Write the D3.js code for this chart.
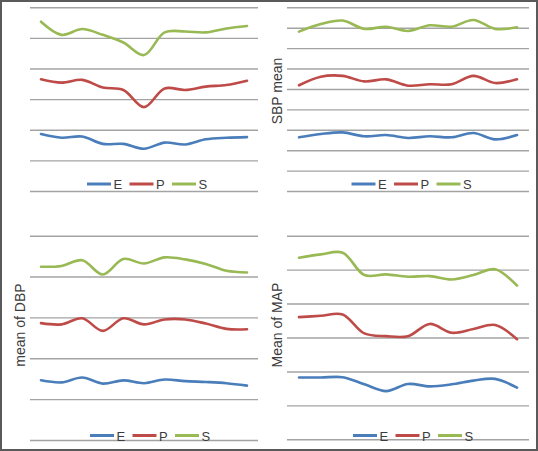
<!DOCTYPE html>
<html>
<head>
<meta charset="utf-8">
<script src="https://cdn.jsdelivr.net/npm/d3@7"></script>
<style>
  html, body { margin: 0; padding: 0; background: #fff; }
  svg { display: block; }
  text { font-family: "Liberation Sans", Arial, sans-serif; fill: #3c3c3c; }
</style>
</head>
<body>
<script>
// ---- DATA (values in gridline units; no axis labels shown in the original) ----
const timePoints = [1, 2, 3, 4, 5, 6, 7, 8, 9, 10, 11];
const seriesNames = ["E", "P", "S"];

// Panel 1 (top-left, no title)
const hrE = [1.86, 1.74, 1.78, 1.54, 1.54, 1.38, 1.58, 1.52, 1.69, 1.74, 1.76];
const hrP = [3.65, 3.54, 3.63, 3.38, 3.30, 2.74, 3.35, 3.30, 3.41, 3.46, 3.60];
const hrS = [5.53, 5.10, 5.29, 5.10, 4.85, 4.44, 5.18, 5.21, 5.18, 5.31, 5.39];

// Panel 2 (top-right, "SBP mean")
const sbpE = [2.63, 2.79, 2.87, 2.68, 2.74, 2.60, 2.68, 2.63, 2.84, 2.53, 2.74];
const sbpP = [5.18, 5.60, 5.64, 5.37, 5.47, 5.16, 5.23, 5.23, 5.64, 5.29, 5.47];
const sbpS = [7.81, 8.18, 8.35, 7.94, 8.05, 7.84, 8.12, 8.05, 8.38, 7.94, 8.02];

// Panel 3 (bottom-left, "mean of DBP")
const dbpE = [1.46, 1.41, 1.53, 1.38, 1.46, 1.39, 1.48, 1.44, 1.42, 1.39, 1.33];
const dbpP = [2.86, 2.83, 2.98, 2.67, 2.98, 2.83, 2.95, 2.95, 2.85, 2.72, 2.71];
const dbpS = [4.24, 4.26, 4.40, 4.05, 4.43, 4.32, 4.47, 4.42, 4.31, 4.14, 4.10];

// Panel 4 (bottom-right, "Mean of MAP")
const mapE = [1.82, 1.82, 1.83, 1.62, 1.42, 1.63, 1.56, 1.62, 1.73, 1.78, 1.52];
const mapP = [3.60, 3.64, 3.68, 3.12, 3.04, 3.04, 3.40, 3.14, 3.25, 3.37, 2.95];
const mapS = [5.35, 5.45, 5.50, 4.84, 4.86, 4.79, 4.81, 4.71, 4.84, 5.01, 4.53];

const yLabels = ["", "SBP mean", "mean of DBP", "Mean of MAP"];
const yMaxes = [6, 9, 5, 6];

// ---- LAYOUT ----
const W = 538, H = 451;
const colors = { E: "#4A7EBB", P: "#BE4B48", S: "#98B954" };

const panels = [
  { data: [hrE, hrP, hrS],   label: yLabels[0], ymax: yMaxes[0],
    gx: [30, 258],  gy: [191, 7.3],   px: [41, 247],  lx: null, ly: null, legX: 87,  legY: 184 },
  { data: [sbpE, sbpP, sbpS], label: yLabels[1], ymax: yMaxes[1],
    gx: [287, 529], gy: [191, 7.3],   px: [299, 517], lx: 277, ly: 91,   legX: 351.5, legY: 184 },
  { data: [dbpE, dbpP, dbpS], label: yLabels[2], ymax: yMaxes[2],
    gx: [30, 258],  gy: [440, 235.7], px: [41, 247],  lx: 19.5, ly: 325,  legX: 90,  legY: 435.5 },
  { data: [mapE, mapP, mapS], label: yLabels[3], ymax: yMaxes[3],
    gx: [287, 529], gy: [439.3, 235.7], px: [299, 517], lx: 277, ly: 325, legX: 353, legY: 435.5 }
];

const svg = d3.select("body").append("svg")
  .attr("width", W).attr("height", H);

svg.append("rect").attr("width", W).attr("height", H).attr("fill", "#fff");

panels.forEach(p => {
  const g = svg.append("g");
  const x = d3.scalePoint().domain(timePoints).range(p.px);
  const y = d3.scaleLinear().domain([0, p.ymax]).range(p.gy);

  // gridlines via axis
  const grid = g.append("g")
    .attr("transform", `translate(${p.gx[0]},0)`)
    .call(d3.axisLeft(y).ticks(p.ymax).tickSize(-(p.gx[1] - p.gx[0])).tickFormat(""));
  grid.select(".domain").remove();
  grid.selectAll(".tick line").attr("stroke", "#a3a3a3").attr("stroke-width", 1.4);

  // series
  const line = d3.line()
    .x((d, i) => x(timePoints[i]))
    .y(d => y(d))
    .curve(d3.curveCatmullRom.alpha(0.5));

  p.data.forEach((vals, si) => {
    g.append("path")
      .datum(vals)
      .attr("d", line)
      .attr("fill", "none")
      .attr("stroke", colors[seriesNames[si]])
      .attr("stroke-width", 2.6)
      .attr("stroke-linejoin", "round")
      .attr("stroke-linecap", "round");
  });

  // y label
  if (p.label) {
    g.append("text")
      .attr("transform", `translate(${p.lx},${p.ly}) rotate(-90)`)
      .attr("text-anchor", "middle")
      .attr("dominant-baseline", "central")
      .attr("font-size", 14)
      .text(p.label);
  }

  // legend
  const leg = g.append("g").attr("transform", `translate(${p.legX},${p.legY})`);
  seriesNames.forEach((s, i) => {
    const it = leg.append("g").attr("transform", `translate(${i * 42.5},0)`);
    it.append("line").attr("x1", 0).attr("x2", 24).attr("y1", 0).attr("y2", 0)
      .attr("stroke", colors[s]).attr("stroke-width", 3);
    it.append("text").attr("x", 26.5).attr("y", 0.5)
      .attr("dominant-baseline", "central")
      .attr("font-size", 13)
      .text(s);
  });
});

// outer frame
svg.append("rect").attr("x", 1).attr("y", 1).attr("width", W - 2).attr("height", H - 2)
  .attr("fill", "none").attr("stroke", "#5a5a5a").attr("stroke-width", 2);
</script>
</body>
</html>
